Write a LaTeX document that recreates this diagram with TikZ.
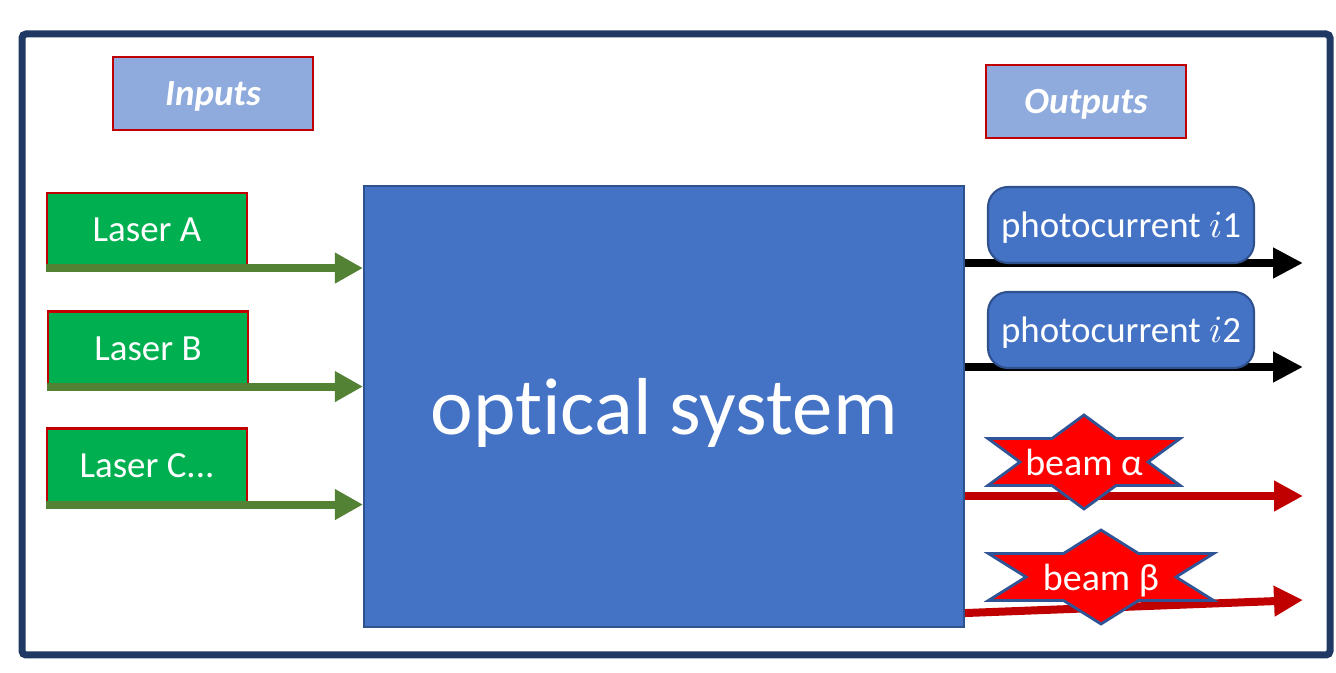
\documentclass[tikz,border=0pt]{standalone}
\usepackage{fontspec}
\setmainfont{Carlito}[Ligatures=NoCommon, RawFeature={-liga;-clig;-calt;-dlig}]
\usepackage{xcolor}
\usepackage{tikz}
\usetikzlibrary{arrows.meta, positioning, calc}
\definecolor{framecol}{RGB}{32, 56, 100}
\definecolor{headfill}{RGB}{143, 170, 220}
\definecolor{boxred}{RGB}{192, 0, 0}
\definecolor{lasergreen}{RGB}{0, 176, 80}
\definecolor{arrowgreen}{RGB}{84, 130, 53}
\definecolor{sysblue}{RGB}{68, 114, 196}
\definecolor{sysborder}{RGB}{47, 82, 143}
\definecolor{starborder}{RGB}{47, 85, 151}
\definecolor{beamred}{RGB}{255, 0, 0}

% six-pointed star: centre, x radius, y radius
\newcommand{\hexstar}[3]{%
	\draw[beamstar] ($(#1)+(90:#2 and #3)$)
		\foreach \a in {90,150,...,390} { -- ($(#1)+(\a:#2 and #3)$) -- ($(#1)+(\a+30:0.577*#2 and 0.577*#3)$) } -- cycle;}

\begin{document}
\begin{tikzpicture}[x=0.1mm, y=-0.1mm,
	every node/.style={text depth=0pt},
	headbox/.style={draw=boxred, line width=0.8pt, fill=headfill, text=white, minimum width=2cm, minimum height=0.73cm, font=\fontsize{10.5}{12}\selectfont\bfseries\itshape},
	laserbox/.style={draw=boxred, line width=0.6pt, fill=lasergreen, text=white, minimum width=2cm, minimum height=0.74cm, font=\fontsize{10.5}{12}\selectfont},
	pcbox/.style={draw=sysborder, line width=0.6pt, fill=sysblue, text=white, rounded corners=2mm, minimum width=2.66cm, minimum height=0.76cm, font=\fontsize{10.5}{12}\selectfont},
	beamstar/.style={draw=starborder, line width=0.8pt, fill=beamred},
	beamtext/.style={text=white, inner sep=0pt, font=\fontsize{10.8}{12}\selectfont},
	greenarrow/.style={arrowgreen, line width=0.8mm, -{Triangle[length=2.8mm, width=2.9mm]}},
	blackarrow/.style={black, line width=0.8mm, -{Triangle[length=3mm, width=2.9mm]}},
	redarrow/.style={boxred, line width=0.8mm, -{Triangle[length=2.9mm, width=2.9mm]}}]
	\useasboundingbox (0,0) rectangle (1336,673);

	% Outer frame
	\draw[framecol, line width=0.7mm, rounded corners=0.4mm] (22,34) rectangle (1330,655);

	% Headings
	\node[headbox] (in) at (213,93.5) {Inputs};
	\node[headbox] (out) at (1086,101.5) {Outputs};

	% Central block
	\node[draw=sysborder, line width=0.6pt, fill=sysblue, text=white, minimum width=6cm, minimum height=4.41cm, font=\fontsize{23}{26}\selectfont] (os) at (664,406.5) {optical system};

	% Lasers on the left
	\node[laserbox] (la) at (147,230) {Laser A};
	\node[laserbox] (lb) at (148,348.5) {Laser B};
	\node[laserbox, minimum height=0.75cm] (lc) at (147,466) {Laser C...};
	\foreach \n in {la,lb,lc}
		\draw[greenarrow] (\n.south west) -- (\n.south west -| os.west);

	% Photocurrents
	\coordinate (e1) at (1303,263);
	\coordinate (e2) at (1303,367);
	\draw[blackarrow] (os.east |- e1) -- (e1);
	\draw[blackarrow] (os.east |- e2) -- (e2);
	\node[pcbox] (p1) at (1121,225) {photocurrent $i$1};
	\node[pcbox] (p2) at (1121,330) {photocurrent $i$2};

	% Beams
	\coordinate (e3) at (1303,496);
	\coordinate (e4) at (1303,600);
	\draw[redarrow] (os.east |- e3) -- (e3);
	\draw[redarrow] ($(os.south east)+(0,-15)$) -- (e4);
	\coordinate (bac) at (1084,462);
	\coordinate (bbc) at (1101,577);
	\hexstar{bac}{111}{47}
	\hexstar{bbc}{130}{47}
	\node[beamtext] (ba) at (bac) {beam α};
	\node[beamtext] (bb) at (bbc) {beam β};

\end{tikzpicture}
\end{document}
